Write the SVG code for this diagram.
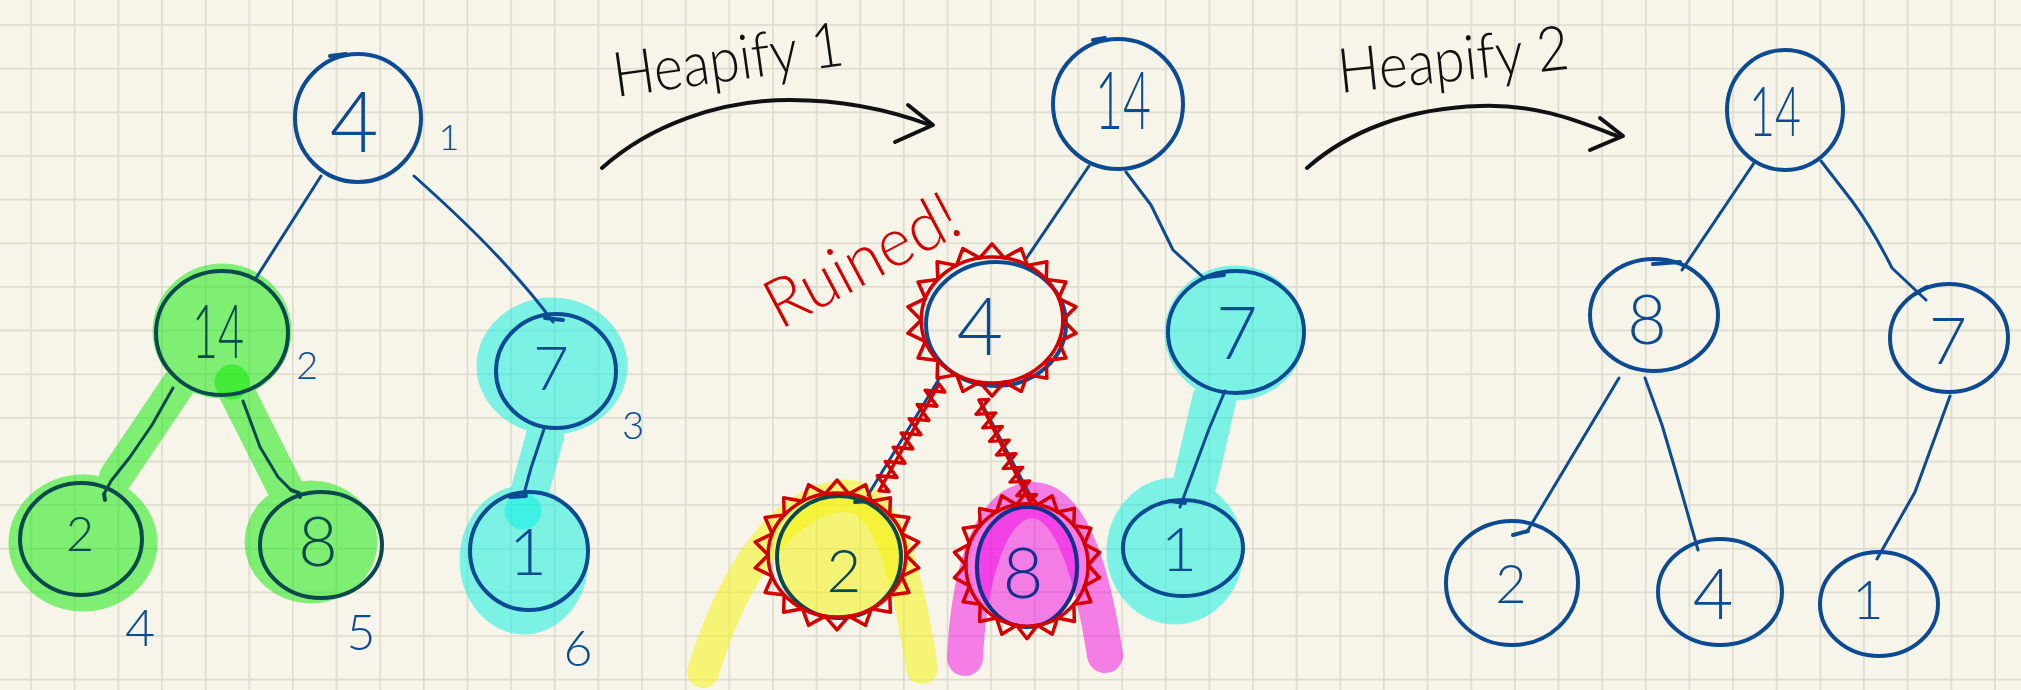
<svg xmlns="http://www.w3.org/2000/svg" xmlns:xlink="http://www.w3.org/1999/xlink" width="2021" height="690" viewBox="0 0 2021 690">
  <style>
    .ink { fill: none; stroke: #0d4a94; stroke-width: 4; stroke-linecap: round; stroke-linejoin: round; }
    .edge { fill: none; stroke: #0d4a94; stroke-width: 3; stroke-linecap: round; stroke-linejoin: round; }
    .teal { stroke: #0b4a4c; }
    .navy { stroke: #12308e; }
    .num { font-family: Lato, "Liberation Sans", sans-serif; font-weight: 300; fill: #0d4a94; text-anchor: middle; }
    .num.teal { fill: #0b4a4c; stroke: none; }
    .num.navy { fill: #12308e; stroke: none; }
    .pen { fill: none; stroke: #111111; stroke-width: 4; stroke-linecap: round; stroke-linejoin: round; }
    .title { font-family: Lato, "Liberation Sans", sans-serif; font-weight: 300; fill: #111111; }
    .red { fill: none; stroke: #d40000; stroke-width: 3.5; stroke-linecap: round; stroke-linejoin: round; }
    .hl-green { fill: #08ea00; stroke: #08ea00; stroke-linecap: round; }
    .hl-cyan { fill: #03f1e3; stroke: #03f1e3; stroke-linecap: round; }
    .hl-yellow { fill: #f5f300; stroke: #f5f300; stroke-linecap: round; }
    .hl-pink { fill: #f105e3; stroke: #f105e3; stroke-linecap: round; }
    .swipe { fill: none; }
  </style>
  <defs>
    <pattern id="grid" x="30.2" y="24.2" width="43.64" height="43.64" patternUnits="userSpaceOnUse">
      <rect width="1.6" height="43.64" fill="#dcdacc"/>
      <rect width="43.64" height="1.6" fill="#dcdacc"/>
    </pattern>
    <!-- spiky scribble ring, radius ~100 around the origin -->
    <g id="spikeRing">
      <path d="M97,0 A97,97 0 1 1 -97,0 A97,97 0 1 1 97,0" vector-effect="non-scaling-stroke"/>
      <path vector-effect="non-scaling-stroke" d="M97,0 L115.2,20.3 L91.2,33.2 L101.3,58.5 L74.3,62.4 L75.2,89.6 L48.5,84 L40,109.9 L16.8,95.5 L0,117 L-16.8,95.5 L-40,109.9 L-48.5,84 L-75.2,89.6 L-74.3,62.4 L-101.3,58.5 L-91.2,33.2 L-115.2,20.3 L-97,0 L-115.2,-20.3 L-91.2,-33.2 L-101.3,-58.5 L-74.3,-62.4 L-75.2,-89.6 L-48.5,-84 L-40,-109.9 L-16.8,-95.5 L0,-117 L16.8,-95.5 L40,-109.9 L48.5,-84 L75.2,-89.6 L74.3,-62.4 L101.3,-58.5 L91.2,-33.2 L115.2,-20.3 Z"/>
    </g>
    <!-- spiky scribble along a 120px segment on the x axis -->
    <path id="spikeLine" d="M0,0 L120,0 M0,0 L4,-9 L12,9 L20,-9 L28,9 L36,-9 L44,9 L52,-9 L60,9 L68,-9 L76,9 L84,-9 L92,9 L100,-9 L108,9 L116,-9 L120,0"/>
  </defs>

  <!-- squared paper -->
  <rect width="2021" height="690" fill="#f7f5e9"/>
  <rect width="2021" height="690" fill="url(#grid)"/>

  <!-- highlighter marks -->
  <g id="highlights">
    <g opacity="0.5" class="hl-green">
      <ellipse cx="222" cy="331" rx="69" ry="67"/>
      <line x1="178" y1="385" x2="116" y2="477" stroke-width="34"/>
      <line x1="235" y1="389" x2="284" y2="486" stroke-width="36"/>
      <ellipse cx="83" cy="543" rx="74" ry="68"/>
      <ellipse cx="311" cy="542" rx="66" ry="61"/>
    </g>
    <circle cx="232" cy="382" r="17" opacity="0.5" class="hl-green"/>
    <g opacity="0.5" class="hl-cyan">
      <ellipse cx="552" cy="366" rx="75" ry="68"/>
      <line x1="545" y1="436" x2="526" y2="505" stroke-width="38"/>
      <ellipse cx="524" cy="560" rx="64" ry="74"/>
    </g>
    <circle cx="523" cy="511" r="18" opacity="0.5" class="hl-cyan"/>
    <g opacity="0.5" class="hl-cyan">
      <ellipse cx="1235" cy="333" rx="70" ry="67"/>
      <line x1="1214" y1="400" x2="1195" y2="482" stroke-width="44"/>
      <ellipse cx="1175" cy="551" rx="68" ry="73"/>
    </g>
    <ellipse cx="839" cy="557" rx="62" ry="61" opacity="0.5" class="hl-yellow"/>
    <path class="hl-yellow swipe" d="M703,672 C725,600 770,505 840,496 C885,490 905,560 922,668" stroke-width="32" opacity="0.5"/>
    <ellipse cx="1027" cy="567" rx="52" ry="61" opacity="0.5" class="hl-pink"/>
    <path class="hl-pink swipe" d="M965,658 C968,590 985,505 1030,500 C1075,497 1095,590 1105,655" stroke-width="36" opacity="0.5"/>
  </g>

  <!-- tree edges -->
  <g id="connectors">
    <path class="edge" d="M321,176 L256,278"/>
    <path class="edge" d="M414,176 Q470,226 503,262 T553,322"/>
    <path class="edge teal" d="M173,388 L152,425 L130,457 L111,481 L104,494"/>
    <path class="edge teal" d="M243,401 L260,447 L278,477 L291,490"/>
    <path class="edge" d="M544,429 L531,468 L525,490"/>

    <path class="edge" d="M1089,166 L1026,259"/>
    <path class="edge" d="M1126,172 L1151,205 L1173,250 L1205,279"/>
    <path class="edge" d="M939,379 L868,495"/>
    <path class="edge" d="M981,402 L1030,495"/>
    <path class="edge" d="M1225,391 L1209,429 L1180,507"/>

    <path class="edge" d="M1754,163 L1682,270"/>
    <path class="edge" d="M1821,161 L1852,201 Q1872,228 1892,268 L1926,300"/>
    <path class="edge" d="M1619,378 L1528,530"/>
    <path class="edge" d="M1645,378 L1662,425 L1675,469 L1698,550"/>
    <path class="edge" d="M1950,396 L1915,492 L1877,559"/>
  </g>

  <!-- step arrows -->
  <g id="step1">
    <text class="title" x="616" y="97" font-size="62" textLength="232" lengthAdjust="spacingAndGlyphs" transform="rotate(-8 616 97)">Heapify 1</text>
    <path class="pen" d="M602,168 C650,125 720,100 790,100 C850,100 895,112 930,125"/>
    <path class="pen" d="M908,105 L933,125 L895,142"/>
  </g>
  <g id="step2">
    <text class="title" x="1340" y="93" font-size="62" textLength="232" lengthAdjust="spacingAndGlyphs" transform="rotate(-6 1340 93)">Heapify 2</text>
    <path class="pen" d="M1307,168 C1350,130 1410,108 1480,106 C1540,104 1580,122 1620,137"/>
    <path class="pen" d="M1600,118 L1623,136 L1590,150"/>
  </g>

  <!-- first tree -->
  <g id="t1-n4">
    <ellipse class="ink" cx="358" cy="118" rx="63" ry="64"/>
    <path class="ink" d="M330,56 L346,54"/>
    <text class="num" x="354" y="152" font-size="84">4</text>
    <text class="num" x="449" y="150" font-size="36">1</text>
  </g>
  <g id="t1-n14">
    <ellipse class="ink teal" cx="222" cy="333" rx="66" ry="62"/>
    <text class="num teal" x="218" y="358" font-size="74" textLength="52" lengthAdjust="spacingAndGlyphs">14</text>
    <text class="num" x="307" y="379" font-size="38">2</text>
  </g>
  <g id="t1-n7">
    <ellipse class="ink" cx="556" cy="371" rx="60" ry="57"/>
    <path class="ink" d="M545,318 L563,320"/>
    <text class="num" x="551" y="390" font-size="62">7</text>
    <text class="num" x="633" y="439" font-size="38">3</text>
  </g>
  <g id="t1-n2">
    <ellipse class="ink teal" cx="81" cy="539" rx="61" ry="56"/>
    <path class="ink teal" d="M104,494 L105,500"/>
    <text class="num teal" x="80" y="551" font-size="48">2</text>
    <text class="num" x="140" y="646" font-size="52">4</text>
  </g>
  <g id="t1-n8">
    <ellipse class="ink teal" cx="321" cy="545" rx="61" ry="53"/>
    <path class="ink teal" d="M291,490 L299,493 L300,497"/>
    <text class="num teal" x="318" y="566" font-size="68">8</text>
    <text class="num" x="361" y="650" font-size="50">5</text>
  </g>
  <g id="t1-n1">
    <ellipse class="ink" cx="529" cy="551" rx="59" ry="59"/>
    <path class="ink" d="M510,497 L526,496"/>
    <text class="num" x="528" y="575" font-size="66">1</text>
    <text class="num" x="578" y="666" font-size="50">6</text>
  </g>

  <!-- second tree -->
  <g id="t2-n14">
    <ellipse class="ink" cx="1118" cy="104" rx="65" ry="65"/>
    <path class="ink" d="M1093,40 L1105,38"/>
    <text class="num" x="1123" y="129" font-size="80" textLength="56" lengthAdjust="spacingAndGlyphs">14</text>
  </g>
  <g id="t2-n4">
    <ellipse class="ink" cx="996" cy="324" rx="70" ry="62"/>
    <text class="num" x="980" y="355" font-size="80">4</text>
  </g>
  <g id="t2-n7">
    <ellipse class="ink" cx="1236" cy="332" rx="68" ry="61"/>
    <path class="ink" d="M1208,277 L1224,275"/>
    <text class="num" x="1237" y="359" font-size="72">7</text>
  </g>
  <g id="t2-n2">
    <ellipse class="ink teal" cx="839" cy="557" rx="62" ry="61"/>
    <path class="ink teal" d="M855,502 L870,501"/>
    <text class="num teal" x="844" y="592" font-size="60">2</text>
  </g>
  <g id="t2-n8">
    <ellipse class="ink navy" cx="1027" cy="567" rx="50" ry="60"/>
    <text class="num navy" x="1023" y="598" font-size="70">8</text>
  </g>
  <g id="t2-n1">
    <ellipse class="ink" cx="1183" cy="548" rx="60" ry="48"/>
    <path class="ink" d="M1170,501 L1185,503"/>
    <text class="num" x="1179" y="571" font-size="62">1</text>
  </g>

  <!-- red scribbles over the broken subtree -->
  <g id="ruined" class="red">
    <use xlink:href="#spikeRing" href="#spikeRing" transform="translate(992,320) scale(0.73,0.65)"/>
    <use xlink:href="#spikeRing" href="#spikeRing" transform="translate(837,555) scale(0.71,0.64)"/>
    <use xlink:href="#spikeRing" href="#spikeRing" transform="translate(1027,565) scale(0.63,0.63)"/>
    <use xlink:href="#spikeLine" href="#spikeLine" transform="translate(939,384) rotate(119.3) scale(1.02,1)"/>
    <use xlink:href="#spikeLine" href="#spikeLine" transform="translate(979,400) rotate(63.4) scale(0.95,1)"/>
    <text x="780" y="330" font-size="68" textLength="210" lengthAdjust="spacingAndGlyphs" transform="rotate(-28 780 330)" fill="#d40000" stroke="none" style="font-family: Lato, 'Liberation Sans', sans-serif; font-weight: 300;">Ruined!</text>
  </g>

  <!-- third tree -->
  <g id="t3-n14">
    <ellipse class="ink" cx="1785" cy="110" rx="58" ry="60"/>
    <text class="num" x="1775" y="136" font-size="68" textLength="52" lengthAdjust="spacingAndGlyphs">14</text>
  </g>
  <g id="t3-n8">
    <ellipse class="ink" cx="1654" cy="315" rx="64" ry="56"/>
    <path class="ink" d="M1653,264 L1680,262"/>
    <text class="num" x="1647" y="344" font-size="68">8</text>
  </g>
  <g id="t3-n7">
    <ellipse class="ink" cx="1949" cy="338" rx="59" ry="54"/>
    <path class="ink" d="M1915,294 L1927,287"/>
    <text class="num" x="1948" y="364" font-size="66">7</text>
  </g>
  <g id="t3-n2">
    <ellipse class="ink" cx="1512" cy="583" rx="66" ry="62"/>
    <path class="ink" d="M1513,535 L1528,531"/>
    <text class="num" x="1511" y="603" font-size="54">2</text>
  </g>
  <g id="t3-n4">
    <ellipse class="ink" cx="1720" cy="592" rx="62" ry="53"/>
    <text class="num" x="1713" y="619" font-size="70">4</text>
  </g>
  <g id="t3-n1">
    <ellipse class="ink" cx="1879" cy="604" rx="59" ry="52"/>
    <text class="num" x="1868" y="619" font-size="54">1</text>
  </g>
</svg>
